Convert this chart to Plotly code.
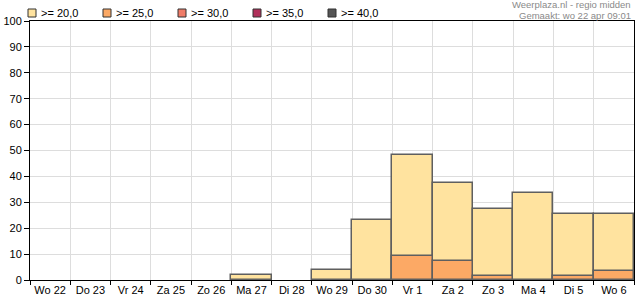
import plotly.graph_objects as go

days = ["Wo 22", "Do 23", "Vr 24", "Za 25", "Zo 26", "Ma 27", "Di 28", "Wo 29",
        "Do 30", "Vr 1", "Za 2", "Zo 3", "Ma 4", "Di 5", "Wo 6"]
ge20 = [0, 0, 0, 0, 0, 1.8, 0, 3.7, 23.0, 48.2, 37.3, 27.3, 33.5, 25.3, 25.3]
ge25 = [0, 0, 0, 0, 0, 0, 0, 0, 0, 9.4, 7.5, 1.7, 0, 1.7, 3.6]
ge30 = [0] * 15
ge35 = [0] * 15
ge40 = [0] * 15

names = [">= 20,0", ">= 25,0", ">= 30,0", ">= 35,0", ">= 40,0"]
values = [ge20, ge25, ge30, ge35, ge40]
colors = ["#FFE39F", "#FCA965", "#F07C68", "#B0305A", "#555555"]

W, H = 635, 300
ML, MR, MT, MB = 30, 1, 21, 20
PW, PH = W - ML - MR, H - MT - MB

def px2paper_x(px):
    return (px - ML) / PW

def px2paper_y(py):
    return (H - MB - py) / PH

fig = go.Figure()
for name, vals, col in zip(names, values, colors):
    fig.add_trace(go.Bar(
        x=days, y=vals, name=name, showlegend=False,
        marker=dict(color=col,
                    line=dict(color="#5f5f5f", width=[1.5 if v > 0 else 0 for v in vals])),
    ))

FF = "Liberation Sans, Arial, sans-serif"
shapes = []
annotations = []
for i, (name, col) in enumerate(zip(names, colors)):
    x0 = 28 + 75 * i
    shapes.append(dict(type="rect", xref="paper", yref="paper",
                       x0=px2paper_x(x0), x1=px2paper_x(x0 + 8),
                       y0=px2paper_y(17), y1=px2paper_y(9),
                       fillcolor=col, line=dict(color="#333333", width=1)))
    annotations.append(dict(text=name, xref="paper", yref="paper",
                            x=px2paper_x(x0 + 11), y=px2paper_y(13.5),
                            xanchor="left", yanchor="middle", showarrow=False,
                            font=dict(family=FF, size=11, color="#000")))

annotations.append(dict(text="Weerplaza.nl - regio midden", xref="paper", yref="paper",
                        x=px2paper_x(633), y=px2paper_y(5), xanchor="right", yanchor="middle",
                        showarrow=False, font=dict(family=FF, size=9.5, color="#8a8a8a")))
annotations.append(dict(text="Gemaakt: wo 22 apr 09:01", xref="paper", yref="paper",
                        x=px2paper_x(633), y=px2paper_y(15.5), xanchor="right", yanchor="middle",
                        showarrow=False, font=dict(family=FF, size=9.5, color="#8a8a8a")))

fig.update_layout(
    width=W, height=H,
    margin=dict(l=ML, r=MR, t=MT, b=MB, autoexpand=False),
    barmode="overlay", bargap=0,
    plot_bgcolor="white", paper_bgcolor="white",
    font=dict(family=FF, size=11, color="#000"),
    showlegend=False,
    shapes=shapes,
    annotations=annotations,
    xaxis=dict(type="category", range=[-0.5, 14.5], tickson="boundaries",
               ticks="outside", ticklen=4, tickcolor="#000", tickangle=0,
               showline=True, linecolor="#000", linewidth=1, mirror=True,
               showgrid=True, gridcolor="#dddddd", gridwidth=1, fixedrange=True,
               automargin=False),
    yaxis=dict(range=[0, 100], tickvals=list(range(0, 101, 10)),
               ticks="outside", ticklen=5, tickcolor="#000",
               showline=True, linecolor="#000", linewidth=1, mirror=True,
               showgrid=True, gridcolor="#dddddd", gridwidth=1, zeroline=False,
               automargin=False),
)
fig.write_html("out.html")
